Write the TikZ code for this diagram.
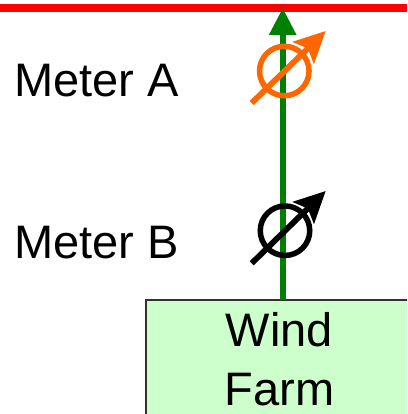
\documentclass[tikz,border=0pt]{standalone}
\usepackage{fontspec}
\setmainfont{Liberation Sans}
\usetikzlibrary{arrows.meta}
\definecolor{busred}{RGB}{255,0,0}
\definecolor{linegreen}{RGB}{0,128,0}
\definecolor{meterorange}{RGB}{255,102,0}
\definecolor{farmfill}{RGB}{204,255,204}
\definecolor{farmedge}{RGB}{50,50,50}
\tikzset{
  label text/.style={font=\fontsize{47}{58.3}\selectfont, inner sep=0pt, text=black},
  meter circle/.style={circle, draw=#1, line width=5.5pt, outer sep=0pt, minimum size=49.5pt, inner sep=0pt},
  meter needle/.style={draw=#1, line width=5.8pt, -{Stealth[length=31pt,width=30pt,inset=6pt,fill=#1]}},
  farm box/.style={rectangle, draw=farmedge, line width=1.2pt, fill=farmfill, outer sep=0pt, minimum width=273.4pt, minimum height=140pt, anchor=north west, inner sep=0pt},
}
\begin{document}
\begin{tikzpicture}[x=1pt,y=1pt]
\useasboundingbox (0,0) rectangle (407,-414);
\clip (0,0) rectangle (407,-414);
\coordinate (busL) at (0,-8);
\coordinate (busR) at (407,-8);
\coordinate (bus) at (282.7,-8);
\node[farm box] (farm) at (146,-300) {};
\draw[busred, line width=8pt] (busL) -- (busR);
\draw[linegreen, line width=5.7pt, -{Triangle[length=27pt,width=26pt]}] (farm.north -| bus) -- (bus);
\node[meter circle=meterorange] (meterA) at (284.3,-71) {};
\coordinate (aTail) at (251.7,-103);
\coordinate (aTip) at (325.7,-31);
\draw[meter needle=meterorange] (aTail) -- (aTip);
\node[meter circle=black] (meterB) at (285,-230.7) {};
\coordinate (bTail) at (251.7,-263.3);
\coordinate (bTip) at (325.7,-191);
\draw[meter needle=black] (bTail) -- (bTip);
\node[label text, anchor=base west] (labelA) at (14,-97) {Meter A};
\node[label text, anchor=base west] (labelB) at (14,-258) {Meter B};
\node[label text, align=center, anchor=base] (farmtext) at (279.5,-405) {Wind\\Farm};
\end{tikzpicture}
\end{document}
